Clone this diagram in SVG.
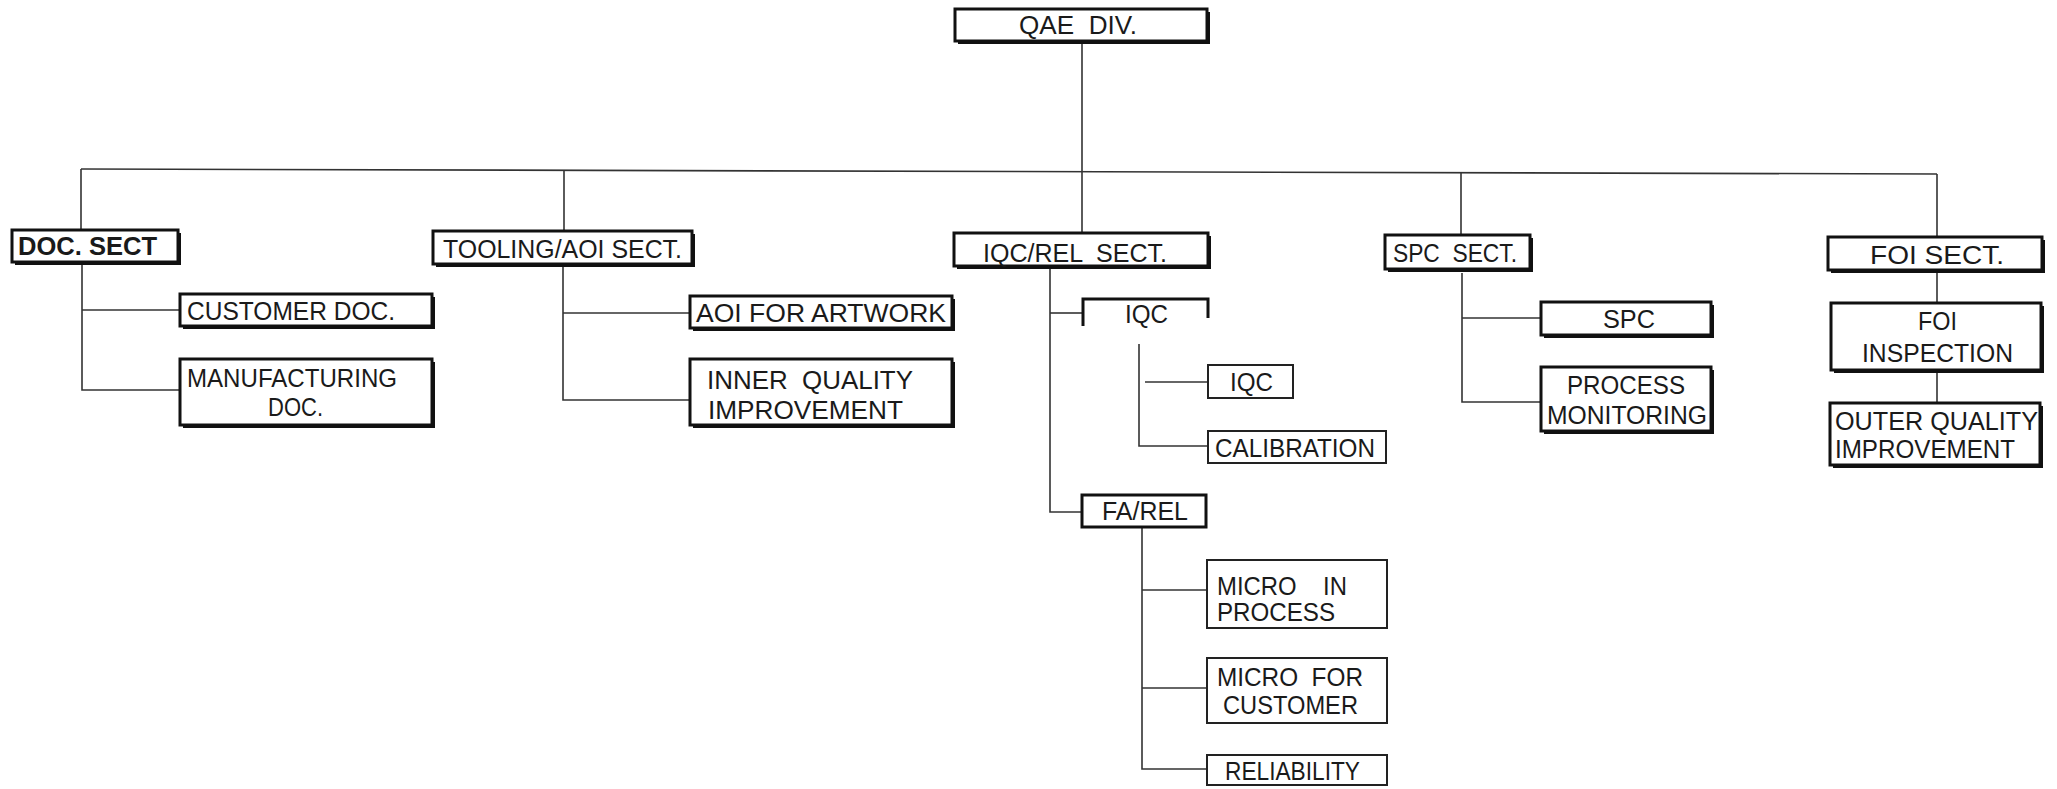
<svg xmlns="http://www.w3.org/2000/svg" width="2057" height="789" viewBox="0 0 2057 789">
<style>
.bg{fill:#ffffff}
.sh{fill:#111111}
.box{fill:#ffffff;stroke:#111111;stroke-width:3}
.thin{fill:#ffffff;stroke:#222222;stroke-width:2}
.open{fill:none;stroke:#111111;stroke-width:3}
.t{font-family:"Liberation Sans",Arial,sans-serif;font-size:25px;fill:#1a1a1a;white-space:pre}
.b{font-weight:bold}
.c line,.c polyline{fill:none;stroke:#333333;stroke-width:1.6}
</style>
<rect class="bg" x="0" y="0" width="2057" height="789"/>
<g id="connectors" class="c">
<line x1="1082" y1="43" x2="1082" y2="233"/>
<line x1="81" y1="169" x2="1937" y2="174"/>
<line x1="81" y1="169" x2="81" y2="230"/>
<line x1="564" y1="171" x2="564" y2="231"/>
<line x1="1461" y1="173" x2="1461" y2="235"/>
<line x1="1937" y1="174" x2="1937" y2="237"/>
<polyline points="82,262 82,390 180,390"/>
<line x1="82" y1="310" x2="180" y2="310"/>
<polyline points="563,264 563,400 690,400"/>
<line x1="563" y1="313" x2="690" y2="313"/>
<polyline points="1050,268 1050,512 1082,512"/>
<line x1="1050" y1="313" x2="1082" y2="313"/>
<polyline points="1139,344 1139,446 1208,446"/>
<line x1="1145" y1="382" x2="1208" y2="382"/>
<polyline points="1142,528 1142,769 1207,769"/>
<line x1="1142" y1="590" x2="1207" y2="590"/>
<line x1="1142" y1="688" x2="1207" y2="688"/>
<polyline points="1462,273 1462,402 1541,402"/>
<line x1="1462" y1="318" x2="1541" y2="318"/>
<line x1="1937" y1="273" x2="1937" y2="303"/>
<line x1="1937" y1="371" x2="1937" y2="403"/>
</g>
<g id="qae-div">
<rect class="sh" x="958" y="12" width="252" height="32"/>
<rect class="box" x="955" y="9" width="252" height="32"/>
<text class="t" x="1078" y="34" text-anchor="middle" textLength="118" lengthAdjust="spacingAndGlyphs">QAE  DIV.</text>
</g>
<g id="doc-sect">
<rect class="sh" x="15" y="233" width="166" height="32"/>
<rect class="box" x="12" y="230" width="166" height="32"/>
<text class="t b" x="18" y="255" textLength="139" lengthAdjust="spacingAndGlyphs">DOC. SECT</text>
</g>
<g id="tooling-sect">
<rect class="sh" x="436" y="234" width="259" height="33"/>
<rect class="box" x="433" y="231" width="259" height="33"/>
<text class="t" x="443" y="258" textLength="239" lengthAdjust="spacingAndGlyphs">TOOLING/AOI SECT.</text>
</g>
<g id="iqcrel-sect">
<rect class="sh" x="957" y="236" width="254" height="33"/>
<rect class="box" x="954" y="233" width="254" height="33"/>
<text class="t" x="983" y="262" textLength="184" lengthAdjust="spacingAndGlyphs">IQC/REL  SECT.</text>
</g>
<g id="spc-sect">
<rect class="sh" x="1388" y="238" width="145" height="34"/>
<rect class="box" x="1385" y="235" width="145" height="34"/>
<text class="t" x="1393" y="262" textLength="124" lengthAdjust="spacingAndGlyphs">SPC  SECT.</text>
</g>
<g id="foi-sect">
<rect class="sh" x="1831" y="240" width="214" height="33"/>
<rect class="box" x="1828" y="237" width="214" height="33"/>
<text class="t" x="1870" y="264" textLength="134" lengthAdjust="spacingAndGlyphs">FOI SECT.</text>
</g>
<g id="customer-doc">
<rect class="sh" x="183" y="297" width="252" height="32"/>
<rect class="box" x="180" y="294" width="252" height="32"/>
<text class="t" x="187" y="320" textLength="208" lengthAdjust="spacingAndGlyphs">CUSTOMER DOC.</text>
</g>
<g id="manufacturing-doc">
<rect class="sh" x="183" y="362" width="252" height="66"/>
<rect class="box" x="180" y="359" width="252" height="66"/>
<text class="t" x="187" y="387" textLength="210" lengthAdjust="spacingAndGlyphs">MANUFACTURING</text>
<text class="t" x="268" y="416" textLength="55" lengthAdjust="spacingAndGlyphs">DOC.</text>
</g>
<g id="aoi-artwork">
<rect class="sh" x="693" y="299" width="262" height="32"/>
<rect class="box" x="690" y="296" width="262" height="32"/>
<text class="t" x="696" y="322" textLength="250" lengthAdjust="spacingAndGlyphs">AOI FOR ARTWORK</text>
</g>
<g id="inner-quality">
<rect class="sh" x="693" y="362" width="262" height="66"/>
<rect class="box" x="690" y="359" width="262" height="66"/>
<text class="t" x="707" y="389" textLength="206" lengthAdjust="spacingAndGlyphs">INNER  QUALITY</text>
<text class="t" x="708" y="419" textLength="195" lengthAdjust="spacingAndGlyphs">IMPROVEMENT</text>
</g>
<g id="iqc-sub">
<path class="open" d="M1083,326 L1083,299 L1208,299 L1208,318"/>
<text class="t" x="1125" y="323" textLength="43" lengthAdjust="spacingAndGlyphs">IQC</text>
</g>
<g id="iqc">
<rect class="thin" x="1208" y="365" width="85" height="33"/>
<text class="t" x="1230" y="391" textLength="43" lengthAdjust="spacingAndGlyphs">IQC</text>
</g>
<g id="calibration">
<rect class="thin" x="1208" y="431" width="178" height="32"/>
<text class="t" x="1215" y="457" textLength="160" lengthAdjust="spacingAndGlyphs">CALIBRATION</text>
</g>
<g id="fa-rel">
<rect class="box" x="1082" y="495" width="124" height="32"/>
<text class="t" x="1102" y="520" textLength="86" lengthAdjust="spacingAndGlyphs">FA/REL</text>
</g>
<g id="micro-in-process">
<rect class="thin" x="1207" y="560" width="180" height="68"/>
<text class="t" x="1217" y="595" textLength="130" lengthAdjust="spacingAndGlyphs">MICRO    IN</text>
<text class="t" x="1217" y="621" textLength="118" lengthAdjust="spacingAndGlyphs">PROCESS</text>
</g>
<g id="micro-for-customer">
<rect class="thin" x="1207" y="658" width="180" height="65"/>
<text class="t" x="1217" y="686" textLength="146" lengthAdjust="spacingAndGlyphs">MICRO  FOR</text>
<text class="t" x="1223" y="714" textLength="135" lengthAdjust="spacingAndGlyphs">CUSTOMER</text>
</g>
<g id="reliability">
<rect class="thin" x="1207" y="755" width="180" height="30"/>
<text class="t" x="1225" y="780" textLength="135" lengthAdjust="spacingAndGlyphs">RELIABILITY</text>
</g>
<g id="spc">
<rect class="sh" x="1544" y="305" width="170" height="33"/>
<rect class="box" x="1541" y="302" width="170" height="33"/>
<text class="t" x="1603" y="328" textLength="52" lengthAdjust="spacingAndGlyphs">SPC</text>
</g>
<g id="process-monitoring">
<rect class="sh" x="1544" y="370" width="170" height="64"/>
<rect class="box" x="1541" y="367" width="170" height="64"/>
<text class="t" x="1567" y="394" textLength="118" lengthAdjust="spacingAndGlyphs">PROCESS</text>
<text class="t" x="1547" y="424" textLength="160" lengthAdjust="spacingAndGlyphs">MONITORING</text>
</g>
<g id="foi-inspection">
<rect class="sh" x="1834" y="306" width="210" height="67"/>
<rect class="box" x="1831" y="303" width="210" height="67"/>
<text class="t" x="1918" y="330" textLength="39" lengthAdjust="spacingAndGlyphs">FOI</text>
<text class="t" x="1862" y="362" textLength="151" lengthAdjust="spacingAndGlyphs">INSPECTION</text>
</g>
<g id="outer-quality">
<rect class="sh" x="1833" y="406" width="210" height="62"/>
<rect class="box" x="1830" y="403" width="210" height="62"/>
<text class="t" x="1835" y="430" textLength="203" lengthAdjust="spacingAndGlyphs">OUTER QUALITY</text>
<text class="t" x="1835" y="458" textLength="180" lengthAdjust="spacingAndGlyphs">IMPROVEMENT</text>
</g>
</svg>
